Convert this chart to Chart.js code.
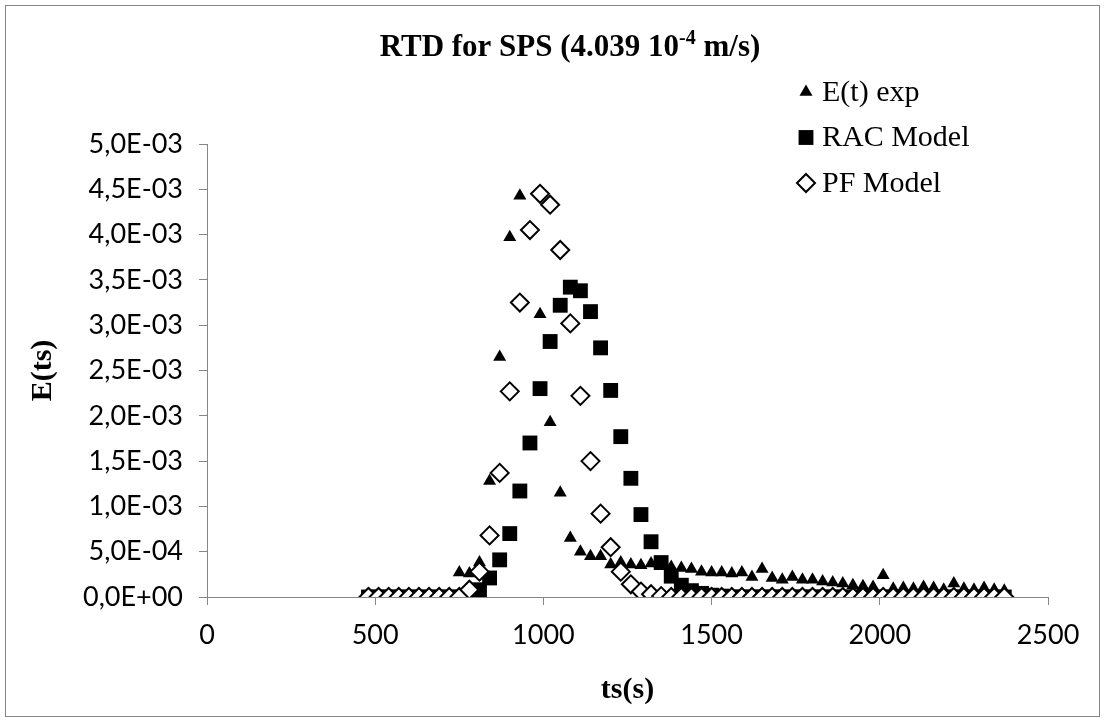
<!DOCTYPE html>
<html>
<head>
<meta charset="utf-8">
<script src="https://cdn.jsdelivr.net/npm/chart.js@4.4.1/dist/chart.umd.min.js"></script>
<style>
  html, body { margin: 0; padding: 0; background: #fff; }
  #rtdChart { display: block; }
</style>
</head>
<body>
<canvas id="rtdChart" width="1105" height="722" style="width:1105px;height:722px"></canvas>
<script>
// experimental E(t) points
const expTimes = [750, 780, 810, 840, 870, 900, 930, 990, 1020, 1050,
  1080, 1110, 1140, 1170, 1200, 1230, 1260, 1290, 1320, 1350,
  1380, 1410, 1440, 1470, 1500, 1530, 1560, 1590, 1620, 1650,
  1680, 1710, 1740, 1770, 1800, 1830, 1860, 1890, 1920, 1950,
  1980, 2010, 2040, 2070, 2100, 2130, 2160, 2190, 2220, 2250,
  2280, 2310, 2340, 2370];
const expValues = [0.00027, 0.00026, 0.00038, 0.00128, 0.00265, 0.00397, 0.00443, 0.00312, 0.00193, 0.00115,
  0.00065, 0.00050, 0.00045, 0.00045, 0.00036, 0.00038, 0.00036, 0.00035, 0.00037, 0.00034,
  0.00033, 0.00032, 0.00031, 0.00028, 0.00027, 0.00027, 0.00026, 0.00027, 0.00022, 0.00031,
  0.00021, 0.00019, 0.00022, 0.00019, 0.00019, 0.00017, 0.00016, 0.00015, 0.00013, 0.00012,
  0.00011, 0.00024, 0.00009, 0.00010, 0.00009, 0.00011, 0.00010, 0.00008, 0.00015, 0.00009,
  0.00008, 0.00010, 0.00008, 0.00007];

// model curves share the same time grid
const modelTimes = [480, 510, 540, 570, 600, 630, 660, 690, 720, 750,
  780, 810, 840, 870, 900, 930, 960, 990, 1020, 1050,
  1080, 1110, 1140, 1170, 1200, 1230, 1260, 1290, 1320, 1350,
  1380, 1410, 1440, 1470, 1500, 1530, 1560, 1590, 1620, 1650,
  1680, 1710, 1740, 1770, 1800, 1830, 1860, 1890, 1920, 1950,
  1980, 2010, 2040, 2070, 2100, 2130, 2160, 2190, 2220, 2250,
  2280, 2310, 2340, 2370];
const racValues = [0, 0, 0, 0, 0, 0, 0, 0, 0, 0,
  0.00001, 0.00008, 0.00021, 0.00041, 0.00070, 0.00117, 0.00170, 0.00230, 0.00282, 0.00322,
  0.00342, 0.00338, 0.00315, 0.00275, 0.00228, 0.00177, 0.00131, 0.00091, 0.00061, 0.00038,
  0.00023, 0.00013, 0.00007, 0.00004, 0.00002, 0.00001, 0, 0, 0, 0,
  0, 0, 0, 0, 0, 0, 0, 0, 0, 0,
  0, 0, 0, 0, 0, 0, 0, 0, 0, 0,
  0, 0, 0, 0];
const pfValues = [0, 0, 0, 0, 0, 0, 0, 0, 0, 0,
  0.00008, 0.00028, 0.00068, 0.00137, 0.00227, 0.00325, 0.00405, 0.00445, 0.00433, 0.00383,
  0.00302, 0.00222, 0.00150, 0.00092, 0.00055, 0.00028, 0.00014, 0.00006, 0.00003, 0.00001,
  0, 0, 0, 0, 0, 0, 0, 0, 0, 0,
  0, 0, 0, 0, 0, 0, 0, 0, 0, 0,
  0, 0, 0, 0, 0, 0, 0, 0, 0, 0,
  0, 0, 0, 0];

const seriesLabels = ['E(t) exp', 'RAC Model', 'PF Model'];
const titleMain = 'RTD for SPS (4.039 10';
const titleSup = '-4';
const titleTail = ' m/s)';
const xTitle = 'ts(s)';
const yTitle = 'E(ts)';

const serif = '"Liberation Serif", "Times New Roman", serif';
const axisGray = '#868686';

const toPoints = (xs, ys) => xs.map((x, i) => ({ x: x, y: ys[i] }));

// 5,0E-03 style labels
function sciComma(value) {
  const parts = Number(value).toExponential(1).split('e');
  const exp = parseInt(parts[1], 10);
  const sign = exp < 0 ? '-' : '+';
  return parts[0].replace('.', ',') + 'E' + sign + String(Math.abs(exp)).padStart(2, '0');
}

const framePlugin = {
  id: 'frame',
  beforeDraw(chart) {
    const ctx = chart.ctx;
    ctx.save();
    ctx.fillStyle = '#fff';
    ctx.fillRect(0, 0, chart.width, chart.height);
    ctx.strokeStyle = axisGray;
    ctx.lineWidth = 1;
    ctx.strokeRect(5.5, 5.5, chart.width - 11, chart.height - 11);
    ctx.restore();
  }
};

const titlePlugin = {
  id: 'supTitle',
  afterDraw(chart) {
    const ctx = chart.ctx;
    ctx.save();
    ctx.fillStyle = '#000';
    ctx.textBaseline = 'alphabetic';
    ctx.textAlign = 'left';
    const big = 'bold 31px ' + serif;
    const small = 'bold 20px ' + serif;
    ctx.font = big;
    const w1 = ctx.measureText(titleMain).width;
    const w3 = ctx.measureText(titleTail).width;
    ctx.font = small;
    const w2 = ctx.measureText(titleSup).width;
    let x = 570 - (w1 + w2 + w3) / 2;
    const y = 56;
    ctx.font = big;
    ctx.fillText(titleMain, x, y);
    x += w1;
    ctx.font = small;
    ctx.fillText(titleSup, x, y - 12);
    x += w2;
    ctx.font = big;
    ctx.fillText(titleTail, x, y);
    ctx.restore();
  }
};

const legendPlugin = {
  id: 'sideLegend',
  afterDraw(chart) {
    const ctx = chart.ctx;
    ctx.save();
    ctx.font = '30px ' + serif;
    ctx.textBaseline = 'middle';
    ctx.textAlign = 'left';
    chart.data.datasets.forEach((ds, i) => {
      const y = 92 + i * 45.5;
      ctx.fillStyle = ds.pointBackgroundColor;
      ctx.strokeStyle = ds.pointBorderColor;
      ctx.lineWidth = ds.pointBorderWidth;
      Chart.helpers.drawPoint(ctx, {
        pointStyle: ds.pointStyle,
        radius: ds.pointRadius,
        borderWidth: ds.pointBorderWidth,
        rotation: 0
      }, 806, y);
      ctx.fillStyle = '#000';
      ctx.fillText(ds.label, 822, y + 1);
    });
    ctx.restore();
  }
};

const ctx = document.getElementById('rtdChart').getContext('2d');

const rtdChart = new Chart(ctx, {
  type: 'scatter',
  data: {
    datasets: [{
      label: seriesLabels[0],
      data: toPoints(expTimes, expValues),
      pointStyle: 'triangle',
      pointRadius: 7.5,
      pointBackgroundColor: '#000',
      pointBorderColor: '#000',
      pointBorderWidth: 0,
      order: 3
    }, {
      label: seriesLabels[1],
      data: toPoints(modelTimes, racValues),
      pointStyle: 'rect',
      pointRadius: 10.5,
      pointBackgroundColor: '#000',
      pointBorderColor: '#000',
      pointBorderWidth: 0,
      order: 2
    }, {
      label: seriesLabels[2],
      data: toPoints(modelTimes, pfValues),
      pointStyle: 'rectRot',
      pointRadius: 9,
      pointBackgroundColor: '#fff',
      pointBorderColor: '#000',
      pointBorderWidth: 2,
      order: 1
    }]
  },
  options: {
    responsive: false,
    animation: false,
    events: [],
    devicePixelRatio: 1,
    layout: {
      padding: { left: 20, right: 57, top: 144, bottom: 0 }
    },
    plugins: {
      legend: { display: false },
      title: { display: false },
      tooltip: { enabled: false }
    },
    scales: {
      x: {
        type: 'linear',
        min: 0,
        max: 2500,
        afterFit: (scale) => { scale.height = 125; },
        ticks: {
          stepSize: 500,
          maxRotation: 0,
          autoSkip: false,
          padding: 14,
          color: '#000',
          font: { family: 'Lato', size: 27 },
          callback: function(value) {
            return String(value);
          }
        },
        grid: {
          drawOnChartArea: false,
          drawTicks: true,
          tickLength: 8,
          color: axisGray
        },
        border: { color: axisGray, width: 1 },
        title: {
          display: true,
          text: xTitle,
          color: '#000',
          padding: { top: 4, bottom: 14 },
          font: { family: serif, size: 30, weight: 'bold' }
        }
      },
      y: {
        type: 'linear',
        min: 0,
        max: 0.005,
        afterFit: (scale) => { scale.width = 187; },
        ticks: {
          stepSize: 0.0005,
          autoSkip: false,
          padding: 16,
          color: '#000',
          font: { family: 'Lato', size: 27 },
          callback: function(value) {
            return sciComma(value);
          }
        },
        grid: {
          drawOnChartArea: false,
          drawTicks: true,
          tickLength: 8,
          color: axisGray
        },
        border: { color: axisGray, width: 1 },
        title: {
          display: true,
          text: yTitle,
          color: '#000',
          padding: { top: 5, bottom: 4 },
          font: { family: serif, size: 30, weight: 'bold' }
        }
      }
    }
  },
  plugins: [framePlugin, titlePlugin, legendPlugin]
});
</script>
</body>
</html>
